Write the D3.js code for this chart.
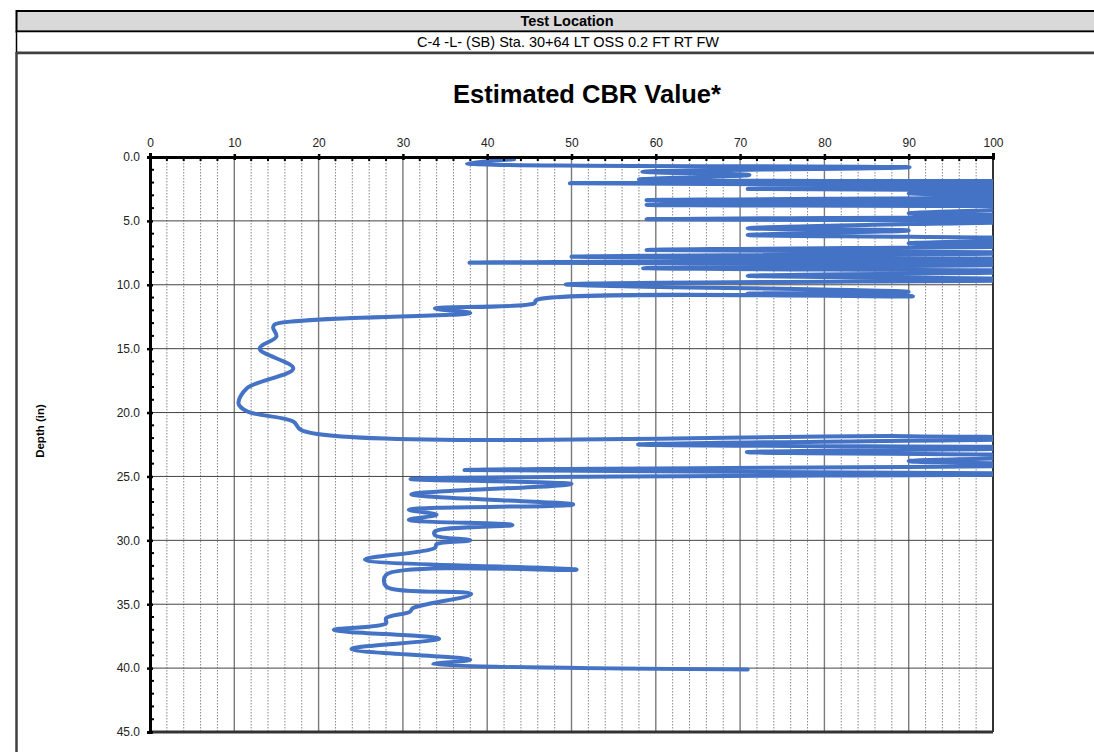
<!DOCTYPE html>
<html>
<head>
<meta charset="utf-8">
<script src="https://cdn.jsdelivr.net/npm/d3@7"></script>
<style>
  body { margin: 0; background: #fff; }
  svg { display: block; font-family: "Liberation Sans", Arial, sans-serif; }
</style>
</head>
<body>
<svg id="chart" width="1094" height="752"></svg>
<script>
// DCP-derived CBR profile: value at each depth reading (in order of the trace)
const cbrValues = [
  43.2, 37.6, 90.1, 58.4, 71.1, 58.0, 110, 49.8, 110, 70.9,
  110, 90.0, 110, 58.9, 110, 58.9, 110, 90.0, 110, 58.9,
  110, 90.0, 70.9, 90.0, 70.9, 90.0, 110, 90.0, 110, 58.9,
  110, 50.0, 110, 37.9, 110, 90.1, 58.5, 110, 70.9, 110,
  49.3, 90.0, 70.9, 90.5, 45.8, 45.6, 33.8, 38.0, 14.8, 14.6,
  15.0, 13.0, 17.0, 11.5, 10.5, 11.5, 17.0, 18.0, 90.0, 110,
  57.9, 110, 70.8, 110, 90.0, 110, 37.3, 110, 30.9, 50.0,
  31.0, 50.2, 30.7, 34.0, 30.7, 43.0, 33.8, 33.8, 38.0, 34.0,
  33.8, 25.5, 50.6, 28.0, 28.0, 38.1, 31.2, 30.8, 28.0, 28.0,
  21.8, 34.3, 23.9, 38.0, 33.6, 70.9
];
const depthValues = [
  0.18, 0.50, 0.81, 1.15, 1.40, 1.75, 1.90, 2.06, 2.25, 2.50,
  2.65, 2.85, 3.10, 3.38, 3.55, 3.75, 3.95, 4.40, 4.60, 4.88,
  5.00, 5.25, 5.58, 5.75, 6.10, 6.25, 6.40, 6.75, 6.95, 7.28,
  7.50, 7.80, 8.00, 8.27, 8.40, 8.53, 8.70, 8.95, 9.30, 9.60,
  9.97, 10.54, 10.70, 10.90, 11.20, 11.45, 11.85, 12.20, 13.10, 13.35,
  14.05, 15.00, 16.55, 18.10, 19.30, 19.90, 20.70, 21.40, 21.85, 22.00,
  22.50, 22.75, 23.10, 23.40, 23.80, 24.10, 24.50, 24.80, 25.20, 25.60,
  26.40, 27.20, 27.60, 28.00, 28.40, 28.80, 29.30, 29.60, 30.00, 30.30,
  30.60, 31.50, 32.30, 32.70, 33.60, 34.20, 35.30, 35.60, 36.10, 36.50,
  37.00, 37.70, 38.50, 39.35, 39.70, 40.10
];
const cbrTicks = [0, 10, 20, 30, 40, 50, 60, 70, 80, 90, 100];
const depthTicks = [0, 5, 10, 15, 20, 25, 30, 35, 40, 45];

const svg = d3.select("#chart");

// ---- header frame ----
svg.append("rect").attr("x", 16.5).attr("y", 11).attr("width", 1100).attr("height", 20.5)
  .attr("fill", "#d9d9d9").attr("stroke", "#000").attr("stroke-width", 2);
svg.append("rect").attr("x", 16.5).attr("y", 31.5).attr("width", 1100).attr("height", 21)
  .attr("fill", "#fff").attr("stroke", "#000").attr("stroke-width", 1.5);
svg.append("line").attr("x1", 16.5).attr("x2", 1100).attr("y1", 53).attr("y2", 53)
  .attr("stroke", "#404040").attr("stroke-width", 2.5);
svg.append("line").attr("x1", 16.5).attr("x2", 16.5).attr("y1", 52).attr("y2", 752)
  .attr("stroke", "#404040").attr("stroke-width", 2.5);

svg.append("text").attr("x", 567).attr("y", 26).attr("text-anchor", "middle")
  .attr("font-size", 14.5).attr("font-weight", "bold").attr("fill", "#000").text("Test Location");
svg.append("text").attr("x", 568).attr("y", 46.5).attr("text-anchor", "middle")
  .attr("font-size", 14.5).attr("fill", "#000").text("C-4 -L- (SB) Sta. 30+64 LT OSS 0.2 FT RT FW");

// ---- chart title ----
svg.append("text").attr("x", 587).attr("y", 103).attr("text-anchor", "middle")
  .attr("font-size", 25.5).attr("font-weight", "bold").attr("fill", "#000").text("Estimated CBR Value*");

// ---- scales ----
const x = d3.scaleLinear().domain([0, 100]).range([150, 993]);
const y = d3.scaleLinear().domain([0, 45]).range([157, 732]);

// ---- grid ----
const grid = svg.append("g");
const minorX = d3.range(2, 100, 2).filter(v => v % 10 !== 0);
grid.selectAll(".minx").data(minorX).join("line")
  .attr("x1", d => x(d)).attr("x2", d => x(d)).attr("y1", y(0)).attr("y2", y(45))
  .attr("stroke", "#6a6a6a").attr("stroke-width", 0.8).attr("stroke-dasharray", "1.5,1.5");
grid.selectAll(".majx").data(cbrTicks.slice(1, -1)).join("line")
  .attr("x1", d => x(d)).attr("x2", d => x(d)).attr("y1", y(0)).attr("y2", y(45))
  .attr("stroke", "#7a7a7a").attr("stroke-width", 1.4);
grid.selectAll(".majy").data(depthTicks.slice(1, -1)).join("line")
  .attr("x1", x(0)).attr("x2", x(100)).attr("y1", d => y(d)).attr("y2", d => y(d))
  .attr("stroke", "#444").attr("stroke-width", 1);
// bottom and right frame of the plot
grid.append("line").attr("x1", x(0)).attr("x2", x(100)).attr("y1", y(45)).attr("y2", y(45))
  .attr("stroke", "#333").attr("stroke-width", 3);
grid.append("line").attr("x1", x(100)).attr("x2", x(100)).attr("y1", y(0)).attr("y2", y(45))
  .attr("stroke", "#333").attr("stroke-width", 2);

// ---- CBR trace ----
svg.append("clipPath").attr("id", "plotClip").append("rect")
  .attr("x", x(0)).attr("y", y(0) - 4).attr("width", x(100) - x(0)).attr("height", y(45) - y(0) + 4);
const line = d3.line()
  .x(i => x(cbrValues[i])).y(i => y(depthValues[i]))
  .curve(d3.curveCatmullRom.alpha(0.5));
svg.append("path")
  .attr("clip-path", "url(#plotClip)")
  .attr("d", line(d3.range(cbrValues.length)))
  .attr("fill", "none").attr("stroke", "#4472c4").attr("stroke-width", 4)
  .attr("stroke-linecap", "round").attr("stroke-linejoin", "round");

// ---- axes ----
const xAxis = svg.append("g").attr("transform", `translate(0,${y(0)})`)
  .call(d3.axisTop(x).tickValues(cbrTicks).tickFormat(d3.format("d")).tickSize(4).tickPadding(6));
xAxis.select(".domain").attr("stroke", "#000").attr("stroke-width", 3);
xAxis.selectAll(".tick line").attr("stroke", "#000").attr("stroke-width", 2.5).attr("y2", 3).attr("y1", -3);
xAxis.selectAll(".tick text").attr("font-size", 12).attr("fill", "#222")
  .attr("font-family", "'Liberation Sans', Arial, sans-serif");
svg.append("g").selectAll("line").data(minorX).join("line")
  .attr("x1", d => x(d)).attr("x2", d => x(d)).attr("y1", y(0)).attr("y2", y(0) + 4)
  .attr("stroke", "#000").attr("stroke-width", 2);

const yAxis = svg.append("g").attr("transform", `translate(${x(0)},0)`)
  .call(d3.axisLeft(y).tickValues(depthTicks).tickFormat(d3.format(".1f")).tickSize(3).tickPadding(7));
yAxis.select(".domain").attr("stroke", "#000").attr("stroke-width", 3);
yAxis.selectAll(".tick line").attr("stroke", "#000").attr("stroke-width", 2.5).attr("x1", 3);
yAxis.selectAll(".tick text").attr("font-size", 12).attr("fill", "#222")
  .attr("font-family", "'Liberation Sans', Arial, sans-serif");
const minorY = d3.range(1, 45).filter(v => v % 5 !== 0);
svg.append("g").selectAll("line").data(minorY).join("line")
  .attr("x1", x(0)).attr("x2", x(0) + 4).attr("y1", d => y(d)).attr("y2", d => y(d))
  .attr("stroke", "#000").attr("stroke-width", 2);

// ---- axis title ----
svg.append("text").attr("transform", "translate(44,431) rotate(-90)")
  .attr("text-anchor", "middle").attr("font-size", 11.5).attr("font-weight", "bold")
  .attr("fill", "#000").text("Depth (in)");
</script>
</body>
</html>
